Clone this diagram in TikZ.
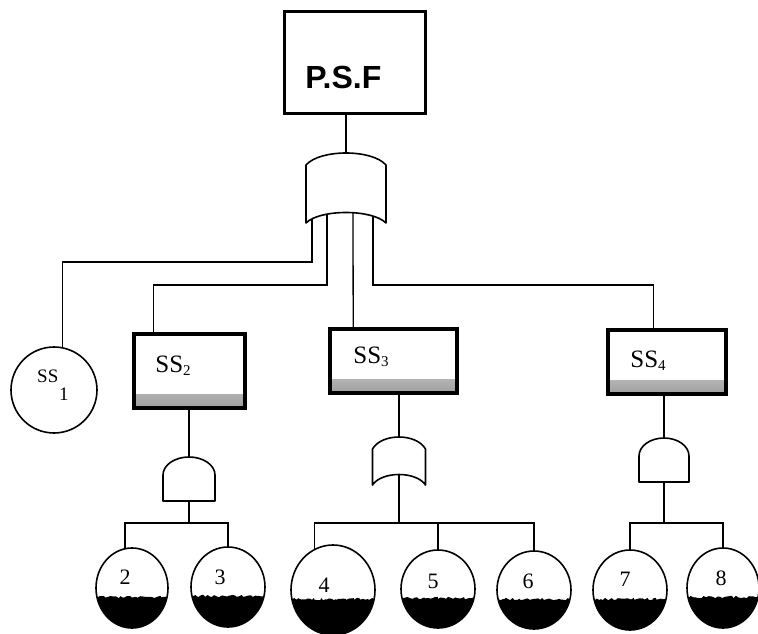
\documentclass[tikz,border=0pt]{standalone}
\usepackage{fontspec}
\setmainfont{Liberation Serif}
\newfontfamily\psffont{Liberation Sans}
\usetikzlibrary{shapes.geometric,calc,decorations.pathmorphing}

\newcommand\ssname[1]{SS\raisebox{-3pt}{\fontsize{15}{15}\selectfont#1}}

\tikzset{
  wire/.style={line width=1.3pt},
  gate/.style={draw,fill=white,line width=1.6pt,line join=round},
  topevent/.style={draw,line width=2.6pt,minimum width=141pt,minimum height=102pt},
  subsys/.style={draw,line width=3.6pt,inner sep=0pt,
    path picture={\shade[top color=white,bottom color=black!38]
      ([yshift=14pt]path picture bounding box.south west) rectangle (path picture bounding box.south east);}},
  basic/.style={ellipse,draw,line width=1.6pt,inner sep=0pt,
    path picture={\fill[decorate,decoration={random steps,segment length=2pt,amplitude=1.2pt}]
      ([xshift=-4pt,yshift=-9pt]path picture bounding box.west) rectangle ([xshift=4pt,yshift=-4pt]path picture bounding box.south east);}},
  sstext/.style={inner sep=0pt,anchor=base west,font=\fontsize{25}{25}\selectfont},
  numtext/.style={inner sep=0pt,font=\fontsize{22}{22}\selectfont},
  pics/orgate/.style 2 args={code={
    \draw[gate] (-#1,#2) -- (-#1,12) .. controls (-0.65*#1,-4) and (0.65*#1,-4) .. (#1,12)
      -- (#1,#2) .. controls (0.65*#1,#2-14) and (-0.65*#1,#2-14) .. cycle;
    \coordinate (-in) at (0,0);
    \coordinate (-out) at (0,#2-11);
  }},
  pics/andgate/.style 2 args={code={
    \draw[gate] (-#1,#2) -- (-#1,18) .. controls (-#1,8) and (-0.55*#1,0) .. (0,0)
      .. controls (0.55*#1,0) and (#1,8) .. (#1,18) -- (#1,#2) -- cycle;
    \coordinate (-in) at (0,0);
    \coordinate (-out) at (0,#2);
  }}
}

\begin{document}
\begin{tikzpicture}[x=1pt,y=-1pt]
  \useasboundingbox (0,0) rectangle (758,634);

  \node[topevent] (psf) at (355,62.5) {};
  \node[inner sep=0pt,anchor=base west,font=\psffont\bfseries\fontsize{32}{32}\selectfont]
    (psftext) at ($(psf.north west)+(22,78)$) {P.S.F};

  \node[circle,draw,line width=1.6pt,minimum size=86pt,inner sep=0pt] (ss1) at (54,390) {};
  \node[sstext,font=\fontsize{19}{19}\selectfont] (ss1text) at ($(ss1)+(-17,-8)$) {SS};
  \node[sstext,font=\fontsize{19}{19}\selectfont] (ss1sub) at ($(ss1)+(5,10)$) {1};

  \node[subsys,minimum width=111pt,minimum height=74pt] (ss2) at (189.5,371) {};
  \node[sstext] (ss2text) at ($(ss2.north west)+(23,40)$) {\ssname{2}};
  \node[subsys,minimum width=127pt,minimum height=64pt] (ss3) at (393.5,361) {};
  \node[sstext] (ss3text) at ($(ss3.north west)+(25,36)$) {\ssname{3}};
  \node[subsys,minimum width=118pt,minimum height=64pt] (ss4) at (667,362) {};
  \node[sstext] (ss4text) at ($(ss4.north west)+(24,39)$) {\ssname{4}};

  \foreach \n/\x/\y/\w/\h/\dx/\dy in {2/132/588/72/80/-7/-11, 3/228/587/74/80/-8/-10,
      4/333/590/84/90/-9/-5, 5/438/589/74/78/-5/-8, 6/534/590/74/78/-6/-9,
      7/630/590/74/80/-5/-11, 8/723/588/72/80/-2/-10}{
    \node[basic,minimum width=\w pt,minimum height=\h pt] (e\n) at (\x,\y) {};
    \node[numtext] (n\n) at ($(e\n)+(\dx,\dy)$) {\n};
  }

  % top gate: wires first, the white gate body hides their upper ends
  \coordinate (g0) at (346,153);
  \draw[wire] (g0 |- psf.south) -- (g0);
  \draw[wire] ($(g0)+(-34,55)$) -- ++(0,54) -| (ss1.79);
  \draw[wire] ($(g0)+(-19,55)$) -- ++(0,77) -| ($(ss2.north west)+(21,0)$);
  \draw[wire] ($(g0)+(7,55)$) -- ($(ss3.north west)+(25,0)$);
  \draw[wire] ($(g0)+(27,55)$) -- ++(0,77) -| ($(ss4.north west)+(47,0)$);
  \pic at (g0) {orgate={40}{70}};

  \pic (g2) at (189,457) {andgate={26}{44}};
  \pic (g3) at (399,437) {orgate={26.5}{48}};
  \pic (g4) at (664,438) {andgate={25}{44}};

  \draw[wire] (g2-in |- ss2.south) -- (g2-in);
  \draw[wire] (g2-out) -- ++(0,22) coordinate (b2) -| (e2.100);
  \draw[wire] (b2) -| (e3.north);

  \draw[wire] (g3-in |- ss3.south) -- (g3-in);
  \draw[wire] (g3-out) -- ++(0,49) coordinate (b3) -| (e4.114);
  \draw[wire] (b3) -| (e5.north);
  \draw[wire] (b3) -| (e6.north);

  \draw[wire] (g4-in |- ss4.south) -- (g4-in);
  \draw[wire] (g4-out) -- ++(0,41) coordinate (b4) -| (e7.north);
  \draw[wire] (b4) -| (e8.north);
\end{tikzpicture}
\end{document}
